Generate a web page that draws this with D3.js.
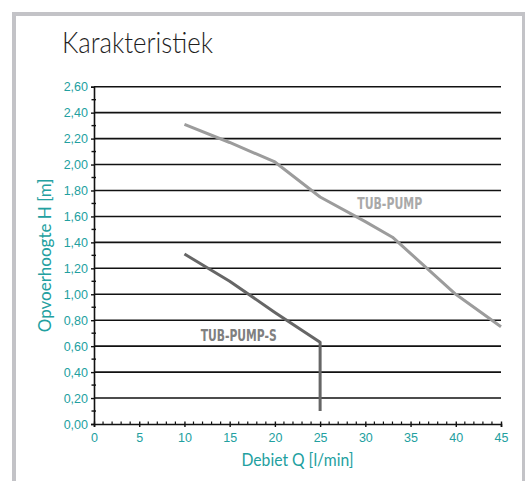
<!DOCTYPE html>
<html>
<head>
<meta charset="utf-8">
<script src="https://cdn.jsdelivr.net/npm/d3@7"></script>
<style>
  html, body { margin: 0; padding: 0; background: #ffffff; }
  svg { display: block; }
</style>
</head>
<body>
<div id="chart"></div>
<script>
// ---- data ----
const chartTitle = "Karakteristiek";
const xAxisTitle = "Debiet Q [l/min]";
const yAxisTitle = "Opvoerhoogte H [m]";
const xTickValues = [0, 5, 10, 15, 20, 25, 30, 35, 40, 45];
const yTickValues = [0, 0.2, 0.4, 0.6, 0.8, 1.0, 1.2, 1.4, 1.6, 1.8, 2.0, 2.2, 2.4, 2.6];
const yTickLabels = ["0,00", "0,20", "0,40", "0,60", "0,80", "1,00", "1,20", "1,40", "1,60", "1,80", "2,00", "2,20", "2,40", "2,60"];
const seriesNames = ["TUB-PUMP", "TUB-PUMP-S"];
const tubPumpQ = [10, 15, 20, 25, 30, 33, 40, 45];
const tubPumpH = [2.31, 2.17, 2.02, 1.75, 1.56, 1.44, 1.00, 0.75];
const tubPumpSQ = [10, 15, 20, 25, 25];
const tubPumpSH = [1.31, 1.10, 0.86, 0.63, 0.10];

// ---- layout ----
const W = 525, H = 481;
const plot = { left: 94, right: 501, top: 86.7, bottom: 424 };
const teal = "#22a0a0";

const svg = d3.select("#chart").append("svg")
  .attr("width", W).attr("height", H);

// frame
svg.append("rect")
  .attr("x", 14).attr("y", 14).attr("width", 510).attr("height", 500)
  .attr("fill", "#ffffff").attr("stroke", "#c3c3c7").attr("stroke-width", 4);

// title
svg.append("text")
  .attr("x", 62).attr("y", 53)
  .attr("font-family", "Lato, 'Open Sans', sans-serif")
  .attr("font-weight", 300)
  .attr("font-size", 29)
  .attr("fill", "#1e1e1e")
  .attr("textLength", 151).attr("lengthAdjust", "spacingAndGlyphs")
  .text(chartTitle);

const x = d3.scaleLinear().domain([0, 45]).range([plot.left, plot.right]);
const y = d3.scaleLinear().domain([0, 2.6]).range([plot.bottom, plot.top]);

// horizontal grid lines
svg.append("g")
  .selectAll("line")
  .data(yTickValues.filter(v => v > 0))
  .join("line")
  .attr("x1", plot.left).attr("x2", plot.right)
  .attr("y1", d => y(d)).attr("y2", d => y(d))
  .attr("stroke", "#111").attr("stroke-width", 1.6);

// y axis
const yAxis = d3.axisLeft(y)
  .tickValues(yTickValues)
  .tickFormat((d, i) => yTickLabels[i])
  .tickSize(3).tickPadding(3);
const gy = svg.append("g").attr("transform", `translate(${plot.left},0)`).call(yAxis);
gy.select(".domain").attr("stroke", "#111").attr("stroke-width", 1.6);
gy.selectAll(".tick line").attr("stroke", "#111").attr("stroke-width", 1.4);
gy.selectAll(".tick text")
  .attr("fill", teal).attr("font-size", 12.5)
  .attr("font-family", "'Liberation Sans', Arial, sans-serif");
// y minor ticks
const yMinor = d3.range(0.1, 2.6, 0.2);
svg.append("g").selectAll("line").data(yMinor).join("line")
  .attr("x1", plot.left - 2.5).attr("x2", plot.left + 2)
  .attr("y1", d => y(d)).attr("y2", d => y(d))
  .attr("stroke", "#111").attr("stroke-width", 1.4);

// x axis
const xAxis = d3.axisBottom(x)
  .tickValues(xTickValues)
  .tickFormat(d3.format("d"))
  .tickSize(3).tickPadding(6);
const gx = svg.append("g").attr("transform", `translate(0,${plot.bottom})`).call(xAxis);
gx.select(".domain").attr("stroke", "#111").attr("stroke-width", 1.6);
gx.selectAll(".tick line").attr("stroke", "#111").attr("stroke-width", 1.4).attr("y1", -2.5);
gx.selectAll(".tick text")
  .attr("fill", teal).attr("font-size", 12.5)
  .attr("font-family", "'Liberation Sans', Arial, sans-serif");
// x minor ticks
const xMinor = d3.range(1, 45).filter(v => v % 5 !== 0);
svg.append("g").selectAll("line").data(xMinor).join("line")
  .attr("x1", d => x(d)).attr("x2", d => x(d))
  .attr("y1", plot.bottom - 2.5).attr("y2", plot.bottom)
  .attr("stroke", "#111").attr("stroke-width", 1.2);

// axis titles
svg.append("text")
  .attr("x", (plot.left + plot.right) / 2).attr("y", 466)
  .attr("text-anchor", "middle")
  .attr("font-family", "Lato, 'Open Sans', sans-serif")
  .attr("font-size", 17)
  .attr("fill", teal)
  .attr("textLength", 112).attr("lengthAdjust", "spacingAndGlyphs")
  .text(xAxisTitle);

svg.append("text")
  .attr("transform", `translate(51,${(plot.top + plot.bottom) / 2}) rotate(-90)`)
  .attr("text-anchor", "middle")
  .attr("font-family", "Lato, 'Open Sans', sans-serif")
  .attr("font-size", 17)
  .attr("fill", teal)
  .text(yAxisTitle);

// series lines
const line = d3.line().x(d => x(d[0])).y(d => y(d[1]));
const series = [
  { name: seriesNames[0], pts: d3.zip(tubPumpQ, tubPumpH), color: "#9c9c9c" },
  { name: seriesNames[1], pts: d3.zip(tubPumpSQ, tubPumpSH), color: "#666666" }
];
svg.append("g").selectAll("path").data(series).join("path")
  .attr("d", d => line(d.pts))
  .attr("fill", "none")
  .attr("stroke", d => d.color)
  .attr("stroke-width", 3)
  .attr("stroke-linejoin", "round");

// series labels
const labelFont = "'Liberation Sans Narrow', 'DejaVu Sans Condensed', 'Roboto Condensed', sans-serif";
svg.append("text")
  .attr("x", x(29.1)).attr("y", y(1.658))
  .attr("font-family", labelFont).attr("font-weight", "bold").attr("font-size", 15)
  .attr("fill", "#a9a9a9")
  .attr("textLength", 65).attr("lengthAdjust", "spacingAndGlyphs")
  .text(seriesNames[0]);
svg.append("text")
  .attr("x", x(11.8)).attr("y", y(0.642))
  .attr("font-family", labelFont).attr("font-weight", "bold").attr("font-size", 15)
  .attr("fill", "#808080")
  .attr("textLength", 76).attr("lengthAdjust", "spacingAndGlyphs")
  .text(seriesNames[1]);
</script>
</body>
</html>
